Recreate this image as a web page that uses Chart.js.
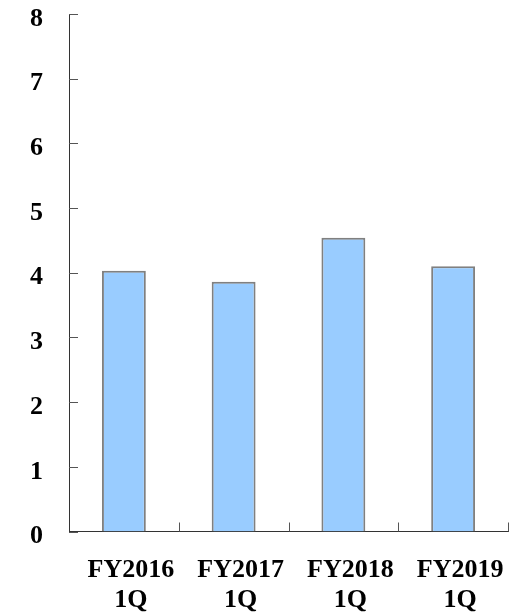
<!DOCTYPE html>
<html>
<head>
<meta charset="utf-8">
<script src="https://cdn.jsdelivr.net/npm/chart.js@4/dist/chart.umd.min.js"></script>
<style>
html,body{margin:0;padding:0;background:#fff;}
#wrap{width:529px;height:616px;}
</style>
</head>
<body>
<div id="wrap"><canvas id="c" width="529" height="616"></canvas></div>
<script>
const categories = [['FY2016','1Q'],['FY2017','1Q'],['FY2018','1Q'],['FY2019','1Q']];
const values = [4.03, 3.86, 4.54, 4.10];
const yTicks = [0,1,2,3,4,5,6,7,8];

const innerTicks = {
  id: 'innerTicks',
  afterDraw(chart) {
    const ctx = chart.ctx, y = chart.scales.y, x = chart.scales.x;
    const left = chart.chartArea.left, bottom = chart.chartArea.bottom;
    ctx.save();
    ctx.strokeStyle = '#555';
    ctx.lineWidth = 1;
    y.ticks.forEach(t => {
      const py = Math.round(y.getPixelForValue(t.value)) + 0.5;
      ctx.beginPath(); ctx.moveTo(left, py); ctx.lineTo(left + 9, py); ctx.stroke();
    });
    for (let i = 0; i < categories.length; i++) {
      const px = Math.round(x.getPixelForValue(i + 0.5)) + 0.5;
      ctx.beginPath(); ctx.moveTo(px, bottom); ctx.lineTo(px, bottom - 9); ctx.stroke();
    }
    ctx.restore();
  }
};

new Chart(document.getElementById('c'), {
  type: 'bar',
  data: {
    labels: categories,
    datasets: [{
      data: values,
      backgroundColor: '#99ccff',
      borderColor: '#808080',
      borderWidth: 2,
      barPercentage: 0.4,
      categoryPercentage: 1.0
    }]
  },
  options: {
    responsive: false,
    animation: false,
    devicePixelRatio: 1,
    layout: { padding: { top: 14, right: 21, left: 30, bottom: 0 } },
    plugins: { legend: { display: false }, tooltip: { enabled: false } },
    scales: {
      x: {
        grid: { display: false, drawTicks: false },
        border: { display: true, color: '#333', width: 1 },
        ticks: {
          color: '#000',
          padding: 24,
          labelOffset: 7,
          maxRotation: 0,
          autoSkip: false,
          font: { family: 'Liberation Serif', size: 26, weight: 'bold', lineHeight: 1.15 }
        },
        afterFit: s => { s.height = 84.5; }
      },
      y: {
        min: 0, max: 8,
        afterBuildTicks: s => { s.ticks = yTicks.map(v => ({ value: v })); },
        grid: { display: false, drawTicks: false },
        border: { display: true, color: '#333', width: 1 },
        ticks: {
          color: '#000',
          padding: 0,
          crossAlign: 'far',
          labelOffset: 5,
          font: { family: 'Liberation Serif', size: 26, weight: 'bold', lineHeight: 1.0 }
        },
        afterFit: s => { s.width = 39; }
      }
    }
  },
  plugins: [innerTicks]
});
</script>
</body>
</html>
